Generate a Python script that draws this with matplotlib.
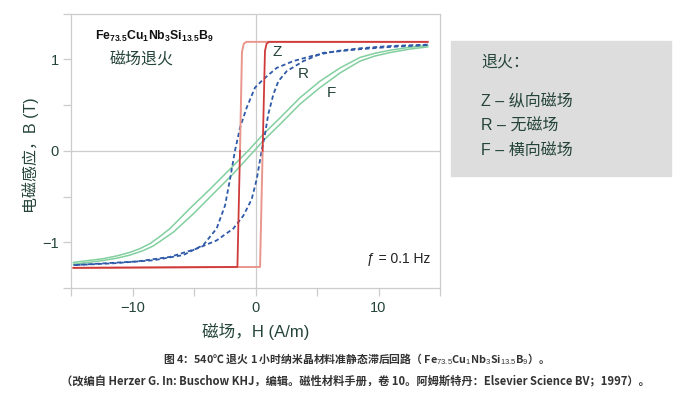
import numpy as np
import matplotlib
matplotlib.use("Agg")
import matplotlib.pyplot as plt

plt.rcParams['font.family'] = ['Liberation Sans', 'Noto Sans CJK SC', 'DejaVu Sans']
plt.rcParams['mathtext.fontset'] = 'custom'
plt.rcParams['mathtext.rm'] = 'Liberation Sans'
plt.rcParams['mathtext.bf'] = 'Liberation Sans:bold'
plt.rcParams['mathtext.it'] = 'Liberation Sans:italic'
plt.rcParams['axes.unicode_minus'] = True

# ---------------- data ----------------
# Z: longitudinal field annealing
Z_desc_H = [14, -0.75, -0.95, -1.1, -1.26, -1.47, -14.8]
Z_desc_B = [1.19, 1.19, 1.17, 1.08, 0.0, -1.27, -1.28]
Z_asc_H = [-14.8, 0.37, 0.58, 0.77, 0.9, 1.1, 14]
Z_asc_B = [-1.28, -1.27, 0.0, 1.09, 1.17, 1.19, 1.19]

# R: no field
R_desc_H = [14, 11, 8.5, 6.6, 4.7, 3.07, 1.72, 0.63, -0.04, -0.72, -1.26, -1.67,
            -2.07, -2.48, -3.16, -4.24, -5.87, -8.3, -11.56, -14.8]
R_desc_B = [1.16, 1.145, 1.12, 1.09, 1.04, 0.98, 0.905, 0.78, 0.69, 0.47, 0.25, 0.0,
            -0.31, -0.6, -0.85, -1.03, -1.14, -1.197, -1.23, -1.25]
R_asc_H = [-14.8, -9.66, -6.95, -4.78, -3.16, -1.8, -0.99, -0.31, 0.1, 0.5, 0.77,
           1.04, 1.45, 1.86, 2.54, 3.9, 5.5, 8.5, 11, 14]
R_asc_B = [-1.25, -1.21, -1.16, -1.07, -0.98, -0.85, -0.71, -0.53, -0.31, 0.0, 0.18,
           0.40, 0.615, 0.76, 0.87, 0.98, 1.07, 1.11, 1.135, 1.155]

# F: transverse field
F_desc_H = [14, 12.5, 11, 9.7, 8.5, 6.87, 5.24, 3.62, 2.0, 0.63, -0.6, -2.07, -3.7,
            -5.33, -6.95, -7.8, -8.58, -9.4, -10.2, -11.3, -12.4, -14.8]
F_desc_B = [1.15, 1.13, 1.10, 1.065, 1.02, 0.905, 0.76, 0.58, 0.36, 0.18, 0.0, -0.2,
            -0.42, -0.63, -0.85, -0.94, -1.015, -1.07, -1.11, -1.15, -1.18, -1.22]
F_asc_H = [-14.8, -12.4, -11.3, -10.2, -9.2, -8.3, -6.68, -5.06, -3.43, -1.8, -0.1,
           0.63, 2.0, 3.62, 5.24, 6.87, 8.5, 9.7, 11, 12.5, 14]
F_asc_B = [-1.24, -1.20, -1.175, -1.14, -1.095, -1.04, -0.89, -0.69, -0.47, -0.25, 0.0,
           0.11, 0.29, 0.51, 0.69, 0.85, 0.98, 1.035, 1.075, 1.11, 1.135]

x_ticks = [-15, -10, -5, 0, 5, 10, 15]
x_ticklabels = ['', '\u221210', '', '0', '', '10', '']
y_ticks = [-1.5, -1, -0.5, 0, 0.5, 1, 1.5]
y_ticklabels = ['', '\u22121', '', '0', '', '1', '']

legend_title = '退火：'
legend_lines = ['Z – 纵向磁场', 'R – 无磁场', 'F – 横向磁场']
curve_labels = ['Z', 'R', 'F']

# ---------------- style ----------------
W, H = 685, 397
DARK_RED = '#cf3b3b'
SALMON = '#e9968c'
BLUE = '#2f5aa8'
GREEN = '#82cf9f'
TXT = '#24443a'
GRID = '#cccccc'

fig = plt.figure(figsize=(W / 100, H / 100), dpi=100)
ax = fig.add_axes([71 / W, 1 - 288 / H, (440 - 71) / W, (288 - 13.5) / H])

ax.set_xlim(-15, 15)
ax.set_ylim(-1.5, 1.5)
ax.axhline(0, color=GRID, lw=0.9, zorder=0)
ax.axvline(0, color=GRID, lw=0.9, zorder=0)

# F
ax.plot(F_desc_H, F_desc_B, color=GREEN, lw=1.1, zorder=2)
ax.plot(F_asc_H, F_asc_B, color=GREEN, lw=1.1, zorder=2)
# R
ax.plot(R_desc_H, R_desc_B, color=BLUE, lw=1.3, dashes=(2.4, 1.6), zorder=3)
ax.plot(R_asc_H, R_asc_B, color=BLUE, lw=1.3, dashes=(2.4, 1.6), zorder=3)
# Z  (two tones)
zdH, zdB = np.array(Z_desc_H), np.array(Z_desc_B)
zaH, zaB = np.array(Z_asc_H), np.array(Z_asc_B)
ax.plot(zaH, np.where(zaB <= 0, zaB, np.nan), color=SALMON, lw=1.4, zorder=4)
ax.plot(zdH, np.where(zdB >= 0, zdB, np.nan), color=SALMON, lw=1.4, zorder=4)
ax.plot(zaH, np.where(zaB >= 0, zaB, np.nan), color=DARK_RED, lw=1.3, zorder=5)
ax.plot(zdH, np.where(zdB <= 0, zdB, np.nan), color=DARK_RED, lw=1.3, zorder=5)

ax.set_xticks(x_ticks)
ax.set_xticklabels(x_ticklabels)
ax.set_yticks(y_ticks)
ax.set_yticklabels(y_ticklabels)
ax.tick_params(direction='out', length=6, width=0.9, color=GRID, labelsize=10.5,
               labelcolor=TXT, pad=3)
for s in ax.spines.values():
    s.set_color(GRID)
    s.set_linewidth(0.9)

ax.set_xlabel('磁场，H (A/m)', fontsize=12, color=TXT, labelpad=6)
ax.set_ylabel('电磁感应，B (T)', fontsize=11.5, color=TXT)
ax.yaxis.set_label_coords(-0.086, 0.485)

def fx(x):
    return x / W

def fy(y):
    return 1 - y / H

# curve labels
for lab, (px, py) in zip(curve_labels, [(277, 52), (303, 74), (331, 93)]):
    fig.text(fx(px), fy(py), lab, fontsize=11, color=TXT, ha='center', va='center')

fig.text(fx(95), fy(40), r'$\mathbf{Fe_{73.5}Cu_{1}Nb_{3}Si_{13.5}B_{9}}$',
         fontsize=8.8, color='#111111', ha='left', va='baseline')
fig.text(fx(142), fy(60), '磁场退火', fontsize=11.5, color=TXT, ha='center',
         va='center', family=['Noto Sans CJK SC'])
fig.text(fx(430), fy(259), 'ƒ = 0.1 Hz', fontsize=10, color='#222222', ha='right',
         va='center')

# legend box
fig.patches.append(plt.Rectangle((fx(451), fy(176)), (671 - 451) / W, (176 - 41) / H,
                                 transform=fig.transFigure, color='#dddddd',
                                 zorder=0))
fig.text(fx(481), fy(62), legend_title, fontsize=11.5, color=TXT, ha='left',
         va='center', family=['Noto Sans CJK SC'])
for i, t in enumerate(legend_lines):
    fig.text(fx(481), fy(101.5 + 24.7 * i), t, fontsize=11.5, color=TXT,
             ha='left', va='center', family=['Liberation Sans', 'Noto Sans CJK SC'])

# caption
cap1 = (r'图 4：540℃ 退火 1 小时纳米晶材料准静态滞后回路（ '
        r'Fe$_{73.5}$Cu$_{1}$Nb$_{3}$Si$_{13.5}$B$_{9}$）。')
cap2 = ('（改编自 Herzer G. In: Buschow KHJ，编辑。磁性材料手册，卷 10。'
        '阿姆斯特丹：Elsevier Science BV；1997）。')
fig.text(fx(353), fy(359), cap1, fontsize=7.8, color='#333333', ha='center',
         va='center', family='Noto Sans CJK SC', weight='bold')
fig.text(fx(355), fy(381), cap2, fontsize=8.1, color='#333333', ha='center',
         va='center', family=['Noto Sans CJK SC'], weight='bold')

fig.savefig('out.png', dpi=100)
